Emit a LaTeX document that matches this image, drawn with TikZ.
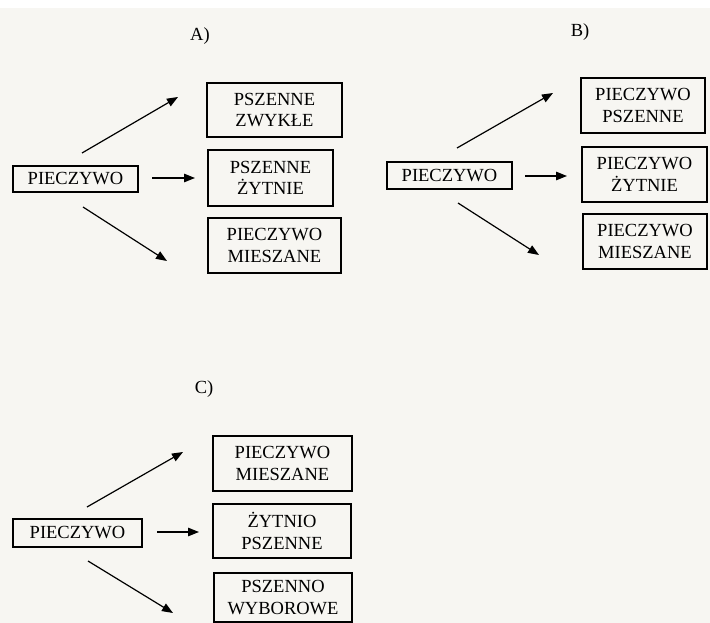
\documentclass[tikz,border=0pt]{standalone}
\usepackage{fontspec}
\setmainfont{Liberation Serif}
\usetikzlibrary{arrows.meta}
\definecolor{paper}{RGB}{247,246,242}
\tikzset{
  box/.style={draw=black, line width=1.3pt, align=center, inner sep=0pt,
    font=\fontsize{18.5}{21.5}\selectfont, text=black},
  arr/.style={line width=1.2pt, -{Triangle[length=11pt,width=8.5pt]}},
  lbl/.style={font=\fontsize{18.5}{21.5}\selectfont, text=black}
}
\begin{document}
\begin{tikzpicture}[x=1pt,y=-1pt]
\fill[paper] (0,0) rectangle (710,623);
\fill[white] (0,0) rectangle (710,8);
\useasboundingbox (0,0) rectangle (710,623);

% Panel A
\node[lbl] (la) at (200,36) {A)};
\node[box, minimum width=125pt, minimum height=26pt] (pa) at (75.5,179) {PIECZYWO};
\node[box, minimum width=135pt, minimum height=54pt] (a1) at (274.5,110) {PSZENNE\\ZWYKŁE};
\node[box, minimum width=125pt, minimum height=56pt] (a2) at (270.5,178) {PSZENNE\\ŻYTNIE};
\node[box, minimum width=133pt, minimum height=55pt] (a3) at (274.5,245.5) {PIECZYWO\\MIESZANE};
\coordinate (as1) at (82,153); \coordinate (ae1) at (178,97);
\coordinate (as2) at (152,178); \coordinate (ae2) at (195,178);
\coordinate (as3) at (83,207); \coordinate (ae3) at (167,261);
\draw[arr] (as1) -- (ae1);
\draw[arr] (as2) -- (ae2);
\draw[arr] (as3) -- (ae3);

% Panel B
\node[lbl] (lb) at (580,32) {B)};
\node[box, minimum width=125pt, minimum height=27pt] (pb) at (449.5,175.5) {PIECZYWO};
\node[box, minimum width=124pt, minimum height=55pt] (b1) at (643,105.5) {PIECZYWO\\PSZENNE};
\node[box, minimum width=125pt, minimum height=55pt] (b2) at (644.5,174.5) {PIECZYWO\\ŻYTNIE};
\node[box, minimum width=124pt, minimum height=55pt] (b3) at (645,241.5) {PIECZYWO\\MIESZANE};
\coordinate (bs1) at (457,148); \coordinate (be1) at (553,93);
\coordinate (bs2) at (525,176); \coordinate (be2) at (567,176);
\coordinate (bs3) at (458,203); \coordinate (be3) at (539,255);
\draw[arr] (bs1) -- (be1);
\draw[arr] (bs2) -- (be2);
\draw[arr] (bs3) -- (be3);

% Panel C
\node[lbl] (lc) at (204,389) {C)};
\node[box, minimum width=129pt, minimum height=28pt] (pc) at (77.5,533) {PIECZYWO};
\node[box, minimum width=139pt, minimum height=55pt] (c1) at (282.5,463.5) {PIECZYWO\\MIESZANE};
\node[box, minimum width=138pt, minimum height=54pt] (c2) at (282,531) {ŻYTNIO\\PSZENNE};
\node[box, minimum width=138pt, minimum height=49pt] (c3) at (283,597.5) {PSZENNO\\WYBOROWE};
\coordinate (cs1) at (87,507); \coordinate (ce1) at (183,452);
\coordinate (cs2) at (157,532); \coordinate (ce2) at (199,532);
\coordinate (cs3) at (88,561); \coordinate (ce3) at (173,613);
\draw[arr] (cs1) -- (ce1);
\draw[arr] (cs2) -- (ce2);
\draw[arr] (cs3) -- (ce3);
\end{tikzpicture}
\end{document}
